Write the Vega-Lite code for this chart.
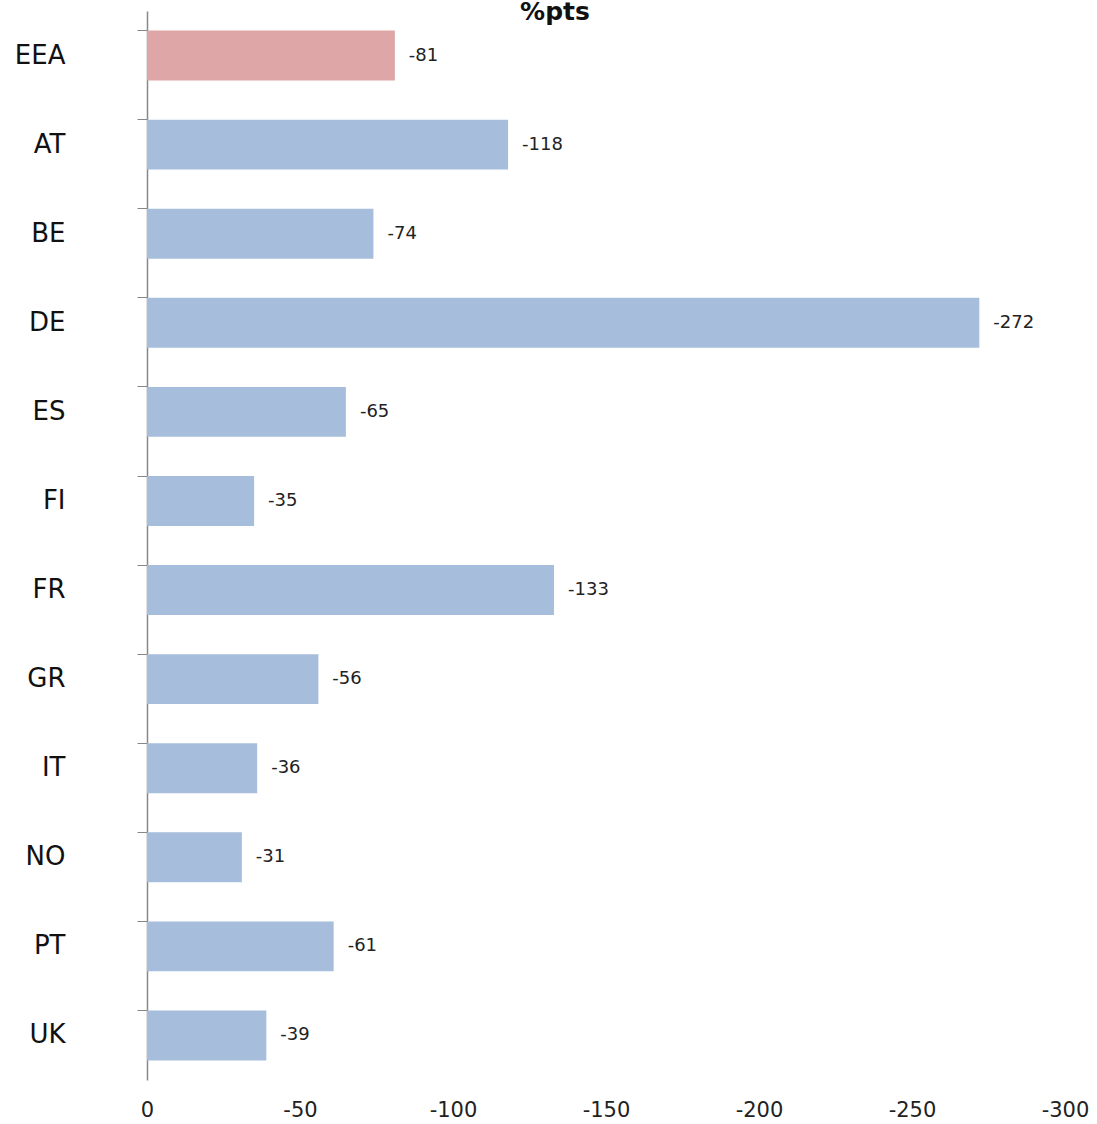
{
  "$schema": "https://vega.github.io/schema/vega-lite/v6.json",
  "width": 918,
  "height": 1069,
  "autosize": "none",
  "padding": {"left": 147, "top": 11, "right": 32, "bottom": 44},
  "background": "white",
  "title": {"text": "%pts", "fontSize": 25, "font": "DejaVu Sans", "fontWeight": "bold", "color": "#111", "offset": -14, "dx": -51, "anchor": "middle"},
  "data": {"values": [
    {"country": "EEA", "value": -81, "group": "EEA"},
    {"country": "AT", "value": -118, "group": "country"},
    {"country": "BE", "value": -74, "group": "country"},
    {"country": "DE", "value": -272, "group": "country"},
    {"country": "ES", "value": -65, "group": "country"},
    {"country": "FI", "value": -35, "group": "country"},
    {"country": "FR", "value": -133, "group": "country"},
    {"country": "GR", "value": -56, "group": "country"},
    {"country": "IT", "value": -36, "group": "country"},
    {"country": "NO", "value": -31, "group": "country"},
    {"country": "PT", "value": -61, "group": "country"},
    {"country": "UK", "value": -39, "group": "country"}
  ]},
  "encoding": {
    "y": {"field": "country", "type": "nominal", "sort": null,
      "scale": {"paddingInner": 0.44, "paddingOuter": 0.22},
      "axis": {"title": null, "domainColor": "#888", "domainWidth": 1.5, "tickColor": "#888", "tickSize": 10, "tickWidth": 1, "bandPosition": 0, "labelFont": "DejaVu Sans", "labelFontSize": 26, "labelColor": "#111", "labelPadding": 72}},
    "x": {"field": "value", "type": "quantitative",
      "scale": {"domain": [-300, 0], "reverse": true, "nice": false},
      "axis": {"title": null, "domain": false, "ticks": false, "grid": false, "values": [0, -50, -100, -150, -200, -250, -300], "labelExpr": "datum.value == 0 ? '0' : '-' + abs(datum.value)", "labelFont": "DejaVu Sans", "labelFontSize": 21, "labelColor": "#222", "labelPadding": 19, "labelFlush": false}}
  },
  "layer": [
    {"mark": {"type": "bar"},
     "encoding": {"color": {"field": "group", "type": "nominal", "scale": {"domain": ["EEA", "country"], "range": ["#DEA6A6", "#A6BEDC"]}, "legend": null}}},
    {"mark": {"type": "text", "align": "left", "dx": 14, "font": "DejaVu Sans", "fontSize": 18, "color": "#222"},
     "encoding": {"text": {"field": "value", "type": "nominal"}}}
  ],
  "config": {"view": {"stroke": null}}
}
